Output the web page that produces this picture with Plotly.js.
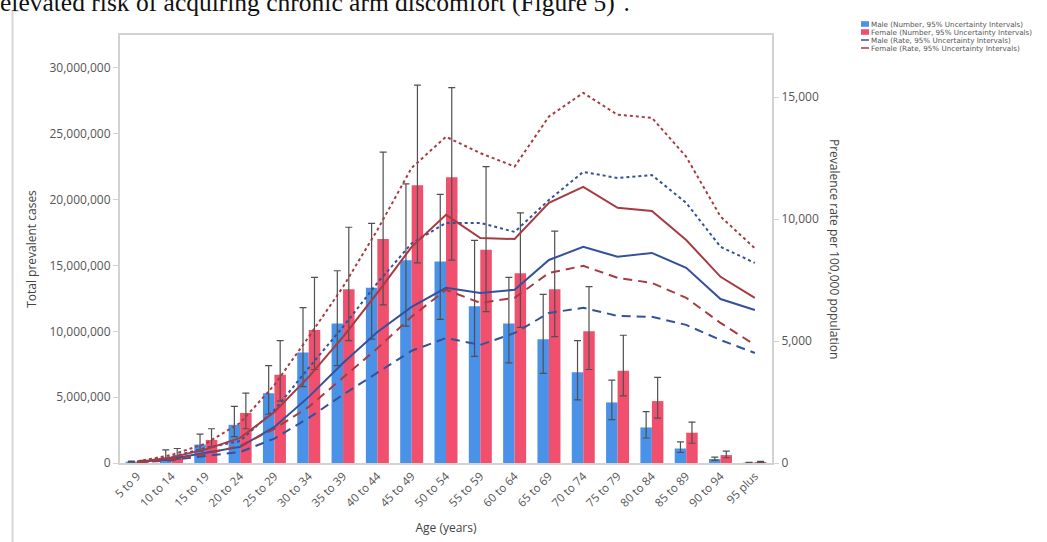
<!DOCTYPE html>
<html><head><meta charset="utf-8">
<script src="https://cdn.plot.ly/plotly-3.0.1.min.js"></script>
<style>html,body{margin:0;padding:0;background:#fff;}#chart{width:1047px;height:542px;}</style>
</head><body><div id="chart"></div>
<script>
const ageGroups = ["5 to 9","10 to 14","15 to 19","20 to 24","25 to 29","30 to 34","35 to 39","40 to 44","45 to 49","50 to 54","55 to 59","60 to 64","65 to 69","70 to 74","75 to 79","80 to 84","85 to 89","90 to 94","95 plus"];

const maleNumber      = [0.10e6,0.38e6,1.4e6,2.9e6,5.3e6,8.4e6,10.6e6,13.3e6,15.4e6,15.3e6,11.9e6,10.6e6,9.4e6,6.9e6,4.6e6,2.7e6,1.1e6,0.30e6,0.03e6];
const maleNumberUpper = [0.15e6,1.0e6,2.2e6,4.3e6,7.4e6,11.8e6,14.6e6,18.2e6,21.2e6,20.4e6,16.9e6,14.1e6,12.8e6,9.3e6,6.3e6,3.9e6,1.6e6,0.45e6,0.05e6];
const maleNumberLower = [0.06e6,0.20e6,0.9e6,2.0e6,3.7e6,5.8e6,7.4e6,9.4e6,10.4e6,10.9e6,8.1e6,7.6e6,6.8e6,4.8e6,3.3e6,1.9e6,0.8e6,0.20e6,0.02e6];

const femaleNumber      = [0.12e6,0.53e6,1.75e6,3.8e6,6.7e6,10.1e6,13.2e6,17.0e6,21.1e6,21.7e6,16.2e6,14.4e6,13.2e6,10.0e6,7.0e6,4.7e6,2.3e6,0.6e6,0.08e6];
const femaleNumberUpper = [0.20e6,1.1e6,2.6e6,5.3e6,9.3e6,14.1e6,17.9e6,23.6e6,28.7e6,28.5e6,22.5e6,19.0e6,17.6e6,13.4e6,9.7e6,6.5e6,3.1e6,0.9e6,0.12e6];
const femaleNumberLower = [0.07e6,0.30e6,1.2e6,2.6e6,4.7e6,7.1e6,9.3e6,12.0e6,15.2e6,15.4e6,11.5e6,10.3e6,9.6e6,7.1e6,5.1e6,3.4e6,1.5e6,0.4e6,0.05e6];

const maleRate      = [30,170,420,660,1480,2710,4100,5370,6400,7180,6970,7100,8320,8860,8450,8610,8000,6720,6270];
const maleRateUpper = [45,250,620,900,2170,3900,5580,7380,9000,9840,9840,9470,10780,11930,11680,11800,10660,8860,8200];
const maleRateLower = [20,115,290,450,1000,1850,2800,3700,4600,5120,4840,5330,6150,6360,6030,5990,5660,5040,4510];

const femaleRate      = [40,230,560,1030,2090,3530,5170,6970,8860,10170,9220,9180,10660,11320,10460,10330,9140,7630,6770];
const femaleRateUpper = [60,330,800,1640,3200,5170,7220,9550,12100,13370,12700,12150,14200,15170,14270,14150,12550,10100,8800];
const femaleRateLower = [25,150,380,700,1400,2300,3500,4700,6000,7100,6560,6770,7790,8080,7590,7380,6770,5740,4840];

const legendLabels = ["Male (Number, 95% Uncertainty Intervals)","Female (Number, 95% Uncertainty Intervals)","Male (Rate, 95% Uncertainty Intervals)","Female (Rate, 95% Uncertainty Intervals)"];

const MALE_BAR = '#4a91e8', FEMALE_BAR = '#f0506e';
const MALE_LINE = '#36519a', FEMALE_LINE = '#a63c42';
const ERR = '#505050';
const FONT = '"Open Sans", "Noto Sans", sans-serif';

const sub = (a,b) => a.map((v,i)=>v-b[i]);

function bar(name, y, up, lo, color){
  return {type:'bar', name, x: ageGroups, y, marker:{color}, showlegend:false,
    error_y:{type:'data', symmetric:false, array: sub(up,y), arrayminus: sub(y,lo), color:ERR, thickness:1.2, width:3.5}};
}
function line(name, y, color, dash, width){
  return {type:'scatter', mode:'lines', name, x: ageGroups, y, yaxis:'y2', showlegend:false,
    line:{color, dash, width}};
}

const data = [
  bar('Male (Number)', maleNumber, maleNumberUpper, maleNumberLower, MALE_BAR),
  bar('Female (Number)', femaleNumber, femaleNumberUpper, femaleNumberLower, FEMALE_BAR),
  line('Male rate upper', maleRateUpper, MALE_LINE, 'dot', 2),
  line('Male rate lower', maleRateLower, MALE_LINE, '9px,6px', 2),
  line('Male rate', maleRate, MALE_LINE, 'solid', 2),
  line('Female rate upper', femaleRateUpper, FEMALE_LINE, 'dot', 2),
  line('Female rate lower', femaleRateLower, FEMALE_LINE, '9px,6px', 2),
  line('Female rate', femaleRate, FEMALE_LINE, 'solid', 2)
];

// plot area in pixels: x 120..772, y 35..463
const L=120, R=772, T=35, B=463;
const px = v => (v-L)/(R-L);
const py = v => (B-v)/(B-T);

const shapes = [
  {type:'line', xref:'paper', yref:'paper', x0:px(12.5), x1:px(12.5), y0:py(11), y1:py(545), line:{color:'#d6d6d6', width:2}},
  {type:'line', xref:'paper', yref:'paper', x0:px(12.5), x1:px(19), y0:py(11), y1:py(11), line:{color:'#e2e2e2', width:2}}
];
const annotations = [
  {xref:'paper', yref:'paper', x:px(-2), y:py(19), xanchor:'left', yanchor:'bottom', showarrow:false,
   text:'elevated risk of acquiring chronic arm discomfort (Figure 5)<sup>1</sup>.', font:{family:'"Liberation Serif", "DejaVu Serif", serif', size:25.5, color:'#111'}},
  {xref:'paper', yref:'paper', x:px(835), y:py(249), xanchor:'center', yanchor:'middle', showarrow:false, textangle:90,
   text:'Prevalence rate per 100,000 population', font:{family:FONT, size:12, color:'#444'}}
];

const legendRows = [24, 32, 40, 48];
const legendColors = [MALE_BAR, FEMALE_BAR, MALE_LINE, FEMALE_LINE];
legendLabels.forEach((lab, i) => {
  const yy = legendRows[i];
  if (i < 2) {
    shapes.push({type:'rect', xref:'paper', yref:'paper', x0:px(861), x1:px(869), y0:py(yy+2.8), y1:py(yy-2.8), fillcolor:legendColors[i], line:{width:0}});
  } else {
    shapes.push({type:'line', xref:'paper', yref:'paper', x0:px(861), x1:px(869), y0:py(yy), y1:py(yy), line:{color:legendColors[i], width:1.5}});
  }
  annotations.push({xref:'paper', yref:'paper', x:px(869.5), y:py(yy), xanchor:'left', yanchor:'middle', showarrow:false,
    borderpad:0, text:lab, font:{family:'"DejaVu Sans", sans-serif', size:7.2, color:'#555'}});
});

const layout = {
  width:1047, height:542,
  margin:{l:L, r:1047-R, t:T, b:542-B, pad:0},
  paper_bgcolor:'#fff', plot_bgcolor:'#fff',
  font:{family:FONT, color:'#555'},
  barmode:'group', bargap:0.33, bargroupgap:0,
  showlegend:false,
  xaxis:{type:'category', range:[-0.5,18.5], tickangle:-45, tickfont:{size:11.5, color:'#555'},
    showline:true, mirror:true, linecolor:'#d2d2d2', linewidth:2, ticks:'', showgrid:false,
    title:{text:'Age (years)', font:{size:12, color:'#444'}, standoff:15}},
  yaxis:{range:[0,32.5e6], dtick:5e6, tickformat:',d', tickfont:{size:12, color:'#555'},
    showline:true, linecolor:'#d2d2d2', linewidth:2, ticks:'outside', ticklen:5, tickcolor:'#d2d2d2',
    showgrid:false, zeroline:false,
    title:{text:'Total prevalent cases', font:{size:12, color:'#444'}, standoff:10}},
  yaxis2:{overlaying:'y', side:'right', range:[0,17541], dtick:5000, tickformat:',d', tickfont:{size:12, color:'#555'},
    showline:true, linecolor:'#d2d2d2', linewidth:2, ticks:'outside', ticklen:5, tickcolor:'#d2d2d2',
    showgrid:false, zeroline:false},
  shapes, annotations
};

Plotly.newPlot('chart', data, layout, {displayModeBar:false, staticPlot:true});
</script></body></html>
